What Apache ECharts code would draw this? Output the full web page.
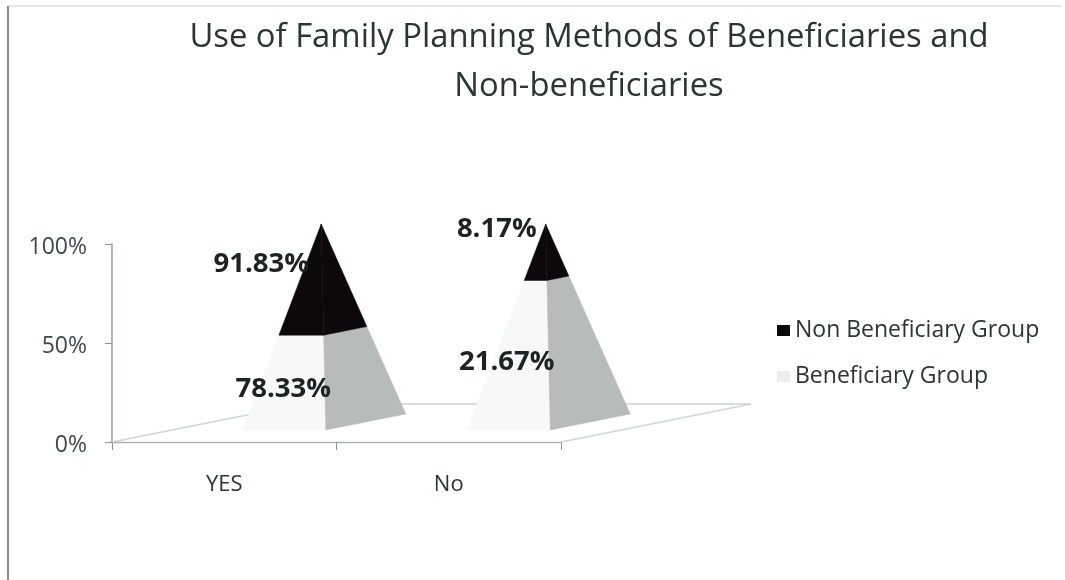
<!DOCTYPE html>
<html>
<head>
<meta charset="utf-8">
<style>html,body{margin:0;padding:0;background:#fff}#chart{width:1065px;height:580px}</style>
<script src="https://cdn.jsdelivr.net/npm/echarts@6/dist/echarts.min.js"></script>
</head>
<body>
<div id="chart"></div>
<script>
const chartTitle = 'Use of Family Planning Methods of Beneficiaries and\nNon-beneficiaries';
const categories = ['YES', 'No'];
const beneficiaryGroup = [78.33, 21.67];
const nonBeneficiaryGroup = [91.83, 8.17];
const valueTicks = [0, 50, 100];

const FONT = '"Open Sans", Lato, sans-serif';
const TEXT = '#2b3634';
const FLOOR_DX = 190, FLOOR_DY = -38;      // oblique vector spanning the chart floor
const FRONT = 0.316, BACK = 0.737, MID = 0.526; // depth of the pyramid base on the floor
const HALF_WIDTH = 41.5;

// Label nudges (pixels) from the middle of each stacked block: [series][category]
const labelNudge = [
  [[-1, -7], [-2, -8]],
  [[-23, -33], [-12, -42]]
];

function share(seriesIndex, i) {
  const total = beneficiaryGroup[i] + nonBeneficiaryGroup[i];
  return seriesIndex === 0
    ? [0, beneficiaryGroup[i] / total * 100]
    : [beneficiaryGroup[i] / total * 100, 100];
}

// Builds one stacked block of a pyramid: a front face and a shaded right face.
function pyramidBlock(seriesIndex, frontColor, sideColor, labels) {
  return function (params, api) {
    const i = api.value(0);
    const range = share(seriesIndex, i);
    const base = api.coord([i, 0]);
    const top = api.coord([i, 100]);
    const apex = [base[0] + FLOOR_DX * MID - 3, top[1] + FLOOR_DY * MID];
    const corner = (side, depth) => [
      base[0] + FLOOR_DX * depth + side * HALF_WIDTH,
      base[1] + FLOOR_DY * depth
    ];
    const along = (c, pct) => {
      const t = (base[1] - api.coord([i, pct])[1]) / (base[1] - top[1]);
      return [c[0] + (apex[0] - c[0]) * t, c[1] + (apex[1] - c[1]) * t];
    };
    const fl = corner(-1, FRONT), fr = corner(1, FRONT), br = corner(1, BACK);
    const band = (a, b) => [along(a, range[0]), along(b, range[0]), along(b, range[1]), along(a, range[1])];
    const midY = api.coord([i, (range[0] + range[1]) / 2])[1];
    const nudge = labelNudge[seriesIndex][i];
    return {
      type: 'group',
      children: [
        { type: 'polygon', shape: { points: band(fl, fr) }, style: { fill: frontColor, stroke: frontColor, lineWidth: 0.5 } },
        { type: 'polygon', shape: { points: band(fr, br) }, style: { fill: sideColor, stroke: sideColor, lineWidth: 0.5 } },
        {
          type: 'text', z2: 100,
          x: base[0] + FLOOR_DX * FRONT + nudge[0],
          y: midY + nudge[1],
          style: {
            text: labels[i].toFixed(2) + '%', fill: '#1d2322',
            font: 'bold 27.5px ' + FONT, textAlign: 'center', textVerticalAlign: 'middle'
          }
        }
      ]
    };
  };
}

// Floor outline running from the axis corners back towards the wall.
function floorLines(params, api) {
  const a = api.coord([0, 0]);
  const b = api.coord([categories.length - 1, 0]);
  const half = api.size([1, 0])[0] / 2;
  const left = [a[0] - half, a[1]], right = [b[0] + half, b[1]];
  return {
    type: 'polyline',
    shape: { points: [left, [left[0] + FLOOR_DX, left[1] + FLOOR_DY], [right[0] + FLOOR_DX, right[1] + FLOOR_DY], right] },
    style: { stroke: '#d0d4d3', lineWidth: 1.4, fill: 'none' }
  };
}

const chart = echarts.init(document.getElementById('chart'), null, { renderer: 'canvas' });
chart.setOption({
  backgroundColor: '#fff',
  animation: false,
  title: {
    text: chartTitle, left: 584, top: 8, textAlign: 'center',
    textStyle: { fontFamily: FONT, fontSize: 32.8, fontWeight: 'normal', color: TEXT, lineHeight: 49 }
  },
  legend: {
    orient: 'vertical', left: 772, top: 314, itemWidth: 13, itemHeight: 11, itemGap: 23, icon: 'rect',
    data: ['Non Beneficiary Group', 'Beneficiary Group'],
    textStyle: { fontFamily: FONT, fontSize: 23, color: TEXT }
  },
  grid: { left: 112, right: 504, top: 244, bottom: 138 },
  xAxis: {
    type: 'category', data: categories,
    axisLine: { lineStyle: { color: '#aab2b0', width: 1.4 } },
    axisTick: { show: true, length: 8, lineStyle: { color: '#8d9593' } },
    axisLabel: { fontFamily: FONT, fontSize: 22, color: TEXT, margin: 32 },
    splitLine: { show: false }
  },
  yAxis: {
    type: 'value', min: 0, max: 100, interval: 50,
    axisLine: { show: true, lineStyle: { color: '#9aa5a2', width: 1.6 } },
    axisTick: { show: true, length: 7, lineStyle: { color: '#8d9593' } },
    axisLabel: { margin: 25,
      formatter: v => valueTicks.includes(v) ? '{tick|' + v + '%}' : '',
      rich: { tick: { fontFamily: FONT, fontSize: 23, color: '#3f4a48', padding: [6, 0, 0, 0] } } },
    splitLine: { show: false }
  },
  series: [
    { type: 'custom', silent: true, z: 1, tooltip: { show: false },
      renderItem: floorLines, data: [[0]], encode: { x: 0 }, clip: false },
    { type: 'custom', name: 'Beneficiary Group', z: 2, itemStyle: { color: '#eceeed' },
      renderItem: pyramidBlock(0, '#f7f9f8', '#b7bcba', beneficiaryGroup),
      data: categories.map((c, i) => [i, beneficiaryGroup[i]]), encode: { x: 0, y: 1 } },
    { type: 'custom', name: 'Non Beneficiary Group', z: 2, itemStyle: { color: '#0d080b' },
      renderItem: pyramidBlock(1, '#0d080b', '#0d080b', nonBeneficiaryGroup),
      data: categories.map((c, i) => [i, nonBeneficiaryGroup[i]]), encode: { x: 0, y: 1 } }
  ],
  graphic: [
    { type: 'line', silent: true, shape: { x1: 8, y1: 6, x2: 8, y2: 580 }, style: { stroke: '#7f8e8b', lineWidth: 2 } },
    { type: 'line', silent: true, shape: { x1: 8, y1: 6, x2: 1062, y2: 6 }, style: { stroke: '#c4cac8', lineWidth: 1 } }
  ]
});
</script>
</body>
</html>
